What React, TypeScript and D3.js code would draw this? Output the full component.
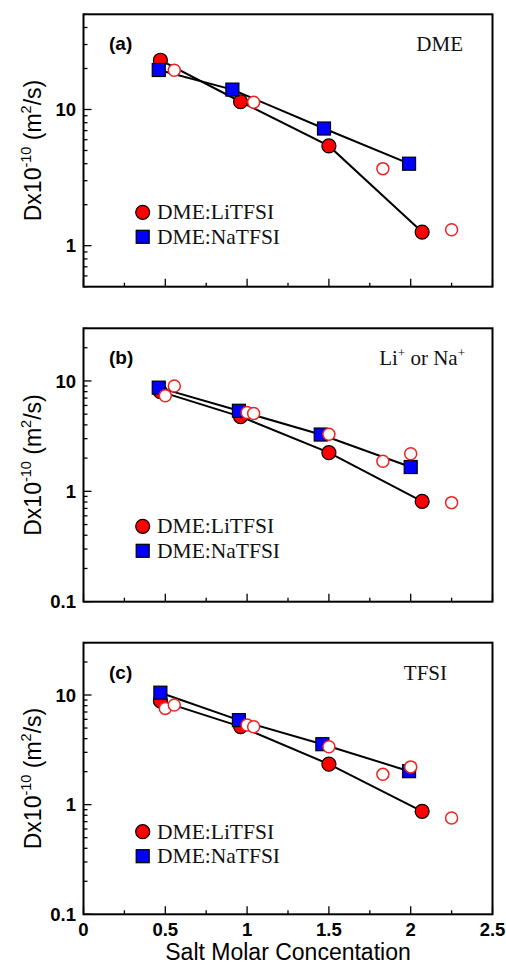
import React from "react";
import * as d3 from "d3";

// ---------- data ----------
const panelLabels = ["(a)", "(b)", "(c)"];
const yDomains: [number, number][] = [[0.5, 50], [0.1, 30], [0.1, 30]];

const liX = [
  [0.47, 0.96, 1.5, 2.07],
  [0.47, 0.96, 1.5, 2.07],
  [0.47, 0.96, 1.5, 2.07],
];
const liY = [
  [23.0, 11.4, 5.4, 1.26],
  [8.0, 4.75, 2.24, 0.81],
  [8.85, 5.15, 2.34, 0.87],
];
const naX = [
  [0.46, 0.91, 1.47, 1.99],
  [0.46, 0.95, 1.45, 2.0],
  [0.47, 0.95, 1.46, 1.99],
];
const naY = [
  [19.5, 14.0, 7.25, 4.0],
  [8.7, 5.37, 3.27, 1.66],
  [10.5, 5.9, 3.56, 2.02],
];
const openX = [
  [0.555, 1.04, 1.83, 2.25],
  [0.5, 0.555, 1.0, 1.04, 1.5, 1.83, 2.0, 2.25],
  [0.5, 0.555, 1.0, 1.04, 1.5, 1.83, 2.0, 2.25],
];
const openY = [
  [19.4, 11.3, 3.68, 1.31],
  [7.35, 9.0, 5.18, 5.07, 3.29, 1.87, 2.19, 0.79],
  [7.55, 8.1, 5.32, 5.13, 3.37, 1.89, 2.21, 0.755],
];
const legendLabels = ["DME:LiTFSI", "DME:NaTFSI"];
const xTickLabels = ["0", "0.5", "1", "1.5", "2", "2.5"];
const xTitle = "Salt Molar Concentation";

// ---------- layout ----------
const W = 506;
const H = 964;
const left = 83.5;
const right = 492.5;
const panels = [
  { top: 14.3, bottom: 286.7, legendY: 198, titleX: 463 },
  { top: 328.3, bottom: 601.7, legendY: 198, titleX: 465 },
  { top: 642.7, bottom: 914.3, legendY: 189, titleX: 447 },
];

const sans = "'Liberation Sans', Arial, Helvetica, sans-serif";
const serif = "'Liberation Serif', 'Times New Roman', serif";

function PanelTitle({ i, x, y }: { i: number; x: number; y: number }) {
  const common = { x, y, textAnchor: "end" as const, fontFamily: serif, fontSize: 21, fill: "#111" };
  if (i === 0) return <text {...common}>DME</text>;
  if (i === 1)
    return (
      <text {...common}>
        Li<tspan fontSize={13} dy={-8}>+</tspan>
        <tspan dy={8}> or Na</tspan>
        <tspan fontSize={13} dy={-8}>+</tspan>
      </text>
    );
  return <text {...common}>TFSI</text>;
}

function Panel({ i }: { i: number }) {
  const p = panels[i];
  const x = d3.scaleLinear().domain([0, 2.5]).range([left, right]);
  const y = d3.scaleLog().domain(yDomains[i]).range([p.bottom, p.top]);
  const yTicks = y.ticks();
  const isMajor = (v: number) => Math.abs(Math.log10(v) - Math.round(Math.log10(v))) < 1e-6;
  const xTicks = d3.range(0, 2.5001, 0.25);
  const line = d3
    .line<[number, number]>()
    .x((d) => x(d[0]))
    .y((d) => y(d[1]));
  const liPts = liX[i].map((v, k) => [v, liY[i][k]] as [number, number]);
  const naPts = naX[i].map((v, k) => [v, naY[i][k]] as [number, number]);
  const cy = (p.top + p.bottom) / 2;
  const sq = 13;
  return (
    <g>
      {/* y ticks */}
      {yTicks.map((t, k) => {
        const major = isMajor(t);
        return (
          <g key={"yt" + k}>
            <line x1={left} x2={left + (major ? 8 : 4)} y1={y(t)} y2={y(t)} stroke="#000" strokeWidth={1.3} />
            {major && (
              <text x={76} y={y(t)} dy="0.36em" textAnchor="end" fontFamily={sans} fontWeight="bold" fontSize={18.5}>
                {t >= 1 ? d3.format("d")(t) : String(t)}
              </text>
            )}
          </g>
        );
      })}
      {/* x ticks */}
      {xTicks.map((t, k) => {
        const major = Math.abs(t * 2 - Math.round(t * 2)) < 1e-6;
        return (
          <line key={"xt" + k} x1={x(t)} x2={x(t)} y1={p.bottom} y2={p.bottom - (major ? 8 : 4)} stroke="#000" strokeWidth={1.3} />
        );
      })}
      {i === 2 &&
        xTicks
          .filter((t) => Math.abs(t * 2 - Math.round(t * 2)) < 1e-6)
          .map((t, k) => (
            <text key={"xl" + k} x={x(t)} y={p.bottom + 22} textAnchor="middle" fontFamily={sans} fontWeight="bold" fontSize={18.5}>
              {xTickLabels[k]}
            </text>
          ))}
      {/* frame */}
      <rect x={left} y={p.top} width={right - left} height={p.bottom - p.top} fill="none" stroke="#000" strokeWidth={2} />
      {/* lines */}
      <path d={line(liPts) || ""} fill="none" stroke="#000" strokeWidth={2} />
      <path d={line(naPts) || ""} fill="none" stroke="#000" strokeWidth={2} />
      {/* markers */}
      {liPts.map((d, k) => (
        <circle key={"li" + k} cx={x(d[0])} cy={y(d[1])} r={7} fill="#ff0000" stroke="#000" strokeWidth={1.2} />
      ))}
      {naPts.map((d, k) => (
        <rect key={"na" + k} x={x(d[0]) - sq / 2} y={y(d[1]) - sq / 2} width={sq} height={sq} fill="#0000ff" stroke="#000" strokeWidth={1.2} />
      ))}
      {openX[i].map((v, k) => (
        <circle key={"op" + k} cx={x(v)} cy={y(openY[i][k])} r={6} fill="#fff" stroke="#ee2222" strokeWidth={1.5} />
      ))}
      {/* panel label and title */}
      <text x={109} y={p.top + 36} fontFamily={sans} fontWeight="bold" fontSize={19}>
        {panelLabels[i]}
      </text>
      <PanelTitle i={i} x={p.titleX} y={p.top + 37} />
      {/* legend */}
      <circle cx={142.7} cy={p.top + p.legendY} r={7} fill="#ff0000" stroke="#000" strokeWidth={1.2} />
      <text x={157} y={p.top + p.legendY + 7} fontFamily={serif} fontSize={21.5} fill="#111">
        {legendLabels[0]}
      </text>
      <rect x={142.7 - sq / 2} y={p.top + p.legendY + 24.5 - sq / 2} width={sq} height={sq} fill="#0000ff" stroke="#000" strokeWidth={1.2} />
      <text x={157} y={p.top + p.legendY + 24.5 + 7} fontFamily={serif} fontSize={21.5} fill="#111">
        {legendLabels[1]}
      </text>
      {/* y axis title */}
      <text transform={`translate(41,${cy}) rotate(-90)`} textAnchor="middle" fontFamily={sans} fontSize={23}>
        Dx10<tspan fontSize={14.5} dy={-10}>-10</tspan>
        <tspan dy={10}> (m</tspan>
        <tspan fontSize={14.5} dy={-10}>2</tspan>
        <tspan dy={10}>/s)</tspan>
      </text>
    </g>
  );
}

export default function App() {
  return (
    <svg width={W} height={H} style={{ position: "absolute", left: 0, top: 0, background: "#fff" }}>
      <rect width={W} height={H} fill="#fff" />
      {panels.map((_, i) => (
        <Panel key={i} i={i} />
      ))}
      <text x={(left + right) / 2} y={960} textAnchor="middle" fontFamily={sans} fontSize={23}>
        {xTitle}
      </text>
    </svg>
  );
}
